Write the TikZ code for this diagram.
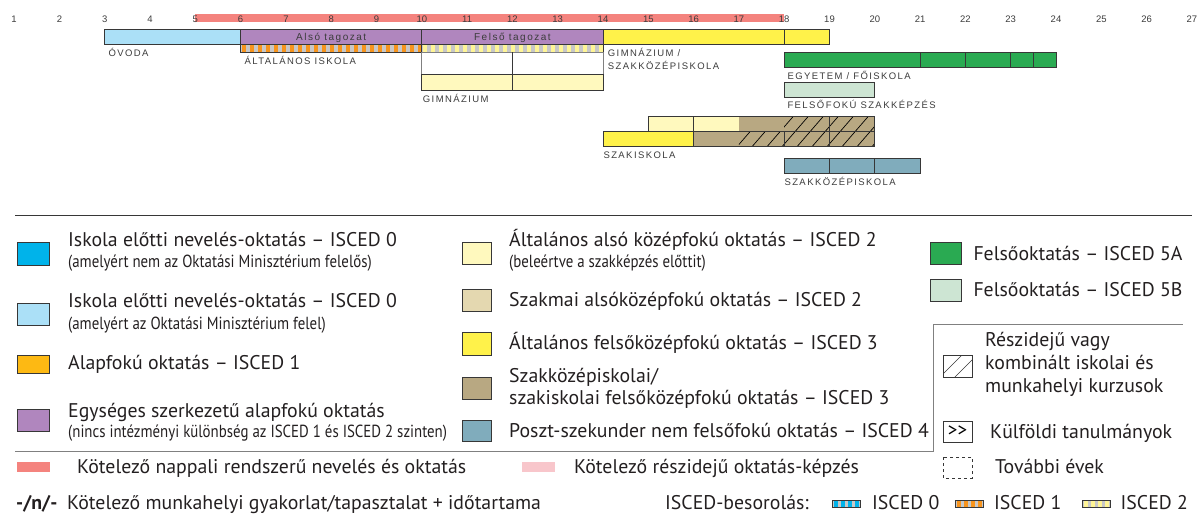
\documentclass[tikz,border=0pt]{standalone}
\usepackage{fontspec}
\setmainfont{PT Sans}
\newfontfamily\narrowfont[FakeStretch=0.85]{PT Sans}
\newfontfamily\capsfont[LetterSpace=15]{Liberation Sans}
\newfontfamily\agefont{Liberation Sans}

\definecolor{kotred}{RGB}{244,131,126}
\definecolor{kotpink}{RGB}{248,198,203}
\definecolor{ovodablue}{RGB}{0,179,234}
\definecolor{ovodalight}{RGB}{171,224,247}
\definecolor{alaporange}{RGB}{253,185,19}
\definecolor{egysegpurple}{RGB}{176,134,190}
\definecolor{alsoyellow}{RGB}{255,249,190}
\definecolor{szaktan}{RGB}{228,216,176}
\definecolor{felsoyellow}{RGB}{255,242,74}
\definecolor{szakbrown}{RGB}{184,168,130}
\definecolor{posztblue}{RGB}{128,172,188}
\definecolor{fogreen}{RGB}{42,170,82}
\definecolor{folight}{RGB}{205,229,211}
\definecolor{stripeorange}{RGB}{247,148,29}
\definecolor{stripegray}{RGB}{200,200,200}
\definecolor{stripeyellow}{RGB}{255,245,150}
\definecolor{bargray}{RGB}{55,55,55}
\definecolor{labelgray}{RGB}{60,60,60}
\definecolor{keyblack}{RGB}{35,31,32}

\tikzset{
  bar/.style={draw=bargray, line width=0.9pt},
  keysq/.style={draw=bargray, line width=0.6pt},
  agelabel/.style={anchor=base, inner sep=0pt, text=labelgray, font=\agefont\fontsize{9.5}{11}\selectfont},
  barlabel/.style={anchor=base, inner sep=0pt, text=labelgray, font=\capsfont\fontsize{10}{12}\selectfont},
  schoollabel/.style={anchor=base west, inner sep=0pt, text=labelgray, font=\capsfont\fontsize{9.5}{12}\selectfont},
  keytext/.style={anchor=base west, inner sep=0pt, text=keyblack, font=\fontsize{19.8}{23}\selectfont},
  keysub/.style={anchor=base west, inner sep=0pt, text=keyblack, font=\narrowfont\fontsize{17.5}{20}\selectfont},
}

\begin{document}
\begin{tikzpicture}[x=1pt, y=-1pt]
\useasboundingbox (0,0) rectangle (1197,528);

\fill[stripegray] (240.6,44.7) rectangle (603,52);
\foreach \s in {0,...,22} \fill[stripeorange] ({241.6+8*\s},44.7) rectangle ++(4.2,7.3);
\foreach \s in {0,...,22} \fill[stripeyellow] ({422.8+8*\s},44.7) rectangle ++(4.2,7.3);

\begin{scope}[xshift=-31.2pt, x=45.3pt]
  \fill[kotred] (5,14) rectangle (18,22);
  \foreach \a in {1,...,27} \node[agelabel] (age\a) at (\a,22) {\a};

  \draw[bar, fill=ovodalight] (3,29.3) rectangle (6,44.7);
  \draw[bar, fill=egysegpurple] (6,29.3) rectangle (10,44.7);
  \draw[bar, fill=egysegpurple] (10,29.3) rectangle (14,44.7);
  \node[barlabel] (also) at (8,40.7) {Alsó tagozat};
  \node[barlabel] (felso) at (12,40.7) {Felső tagozat};
  \draw[bar] (6,44.7) rectangle (10,52);
  \draw[bar] (10,44.7) rectangle (14,52);

  \draw[draw=gray, line width=0.9pt, fill=white] (10,52) rectangle (14,74.7);
  \draw[bar, fill=alsoyellow] (10,74.7) rectangle (14,90);
  \draw[bar] (12,52) -- (12,90);

  \draw[bar, fill=felsoyellow] (14,29.3) rectangle (19,44.7);
  \draw[bar] (18,29.3) -- (18,44.7);

  \draw[bar, fill=fogreen] (18,52.3) rectangle (24,67.3);
  \foreach \d in {21,22,23,23.5} \draw[bar] (\d,52.3) -- (\d,67.3);
  \draw[bar, fill=folight] (18,82.7) rectangle (20,97.7);

  \fill[alsoyellow] (15,116.7) rectangle (17,131.7);
  \fill[szakbrown] (17,116.7) rectangle (20,131.7);
  \fill[felsoyellow] (14,131.7) rectangle (16,146.7);
  \fill[szakbrown] (16,131.7) rectangle (20,146.7);

  \draw[bar, fill=posztblue] (18,158.3) rectangle (21,173.3);
  \foreach \d in {19,20} \draw[bar] (\d,158.3) -- (\d,173.3);
\end{scope}

\begin{scope}
  \clip (784.2,116.7) rectangle (874.8,131.7) (738.9,131.7) rectangle (874.8,146.7);
  \foreach \h in {0,...,11} \draw[black, line width=0.7pt] ({722+15*\h},146.7) -- ++(26,-30);
\end{scope}

\begin{scope}[xshift=-31.2pt, x=45.3pt]
  \draw[bar] (15,116.7) rectangle (20,131.7);
  \draw[bar] (14,131.7) rectangle (20,146.7);
  \foreach \d in {16,19} \draw[bar] (\d,116.7) -- (\d,131.7);
  \foreach \d in {16,18,19} \draw[bar] (\d,131.7) -- (\d,146.7);
\end{scope}

\node[schoollabel] (ovodalab) at (108.3,56) {ÓVODA};
\node[schoollabel] (altisklab) at (244.3,64) {ÁLTALÁNOS ISKOLA};
\node[schoollabel] (gimnlab) at (422.7,102) {GIMNÁZIUM};
\node[schoollabel] (gimnszaklab) at (607.7,56) {GIMNÁZIUM /};
\node[schoollabel] (gimnszaklabb) at (607.7,69.3) {SZAKKÖZÉPISKOLA};
\node[schoollabel] (egyetemlab) at (787.3,79) {EGYETEM / FŐISKOLA};
\node[schoollabel] (felsofoklab) at (787.3,108.3) {FELSŐFOKÚ SZAKKÉPZÉS};
\node[schoollabel] (szakisklab) at (603.3,158.3) {SZAKISKOLA};
\node[schoollabel] (szakkozlab) at (784.3,185) {SZAKKÖZÉPISKOLA};

\draw[bargray, line width=0.9pt] (15,215.7) -- (1192,215.7);
\draw[gray, line width=1pt] (15,451) -- (933,451) -- (933,324.3) -- (1183,324.3);

\draw[keysq, fill=ovodablue] (17,242.5) rectangle (49.5,265);
\node[keytext] (ovodanem) at (68,246) {Iskola előtti nevelés-oktatás – ISCED 0};
\node[keysub] (ovodanemsub) at (68,267.3) {(amelyért nem az Oktatási Minisztérium felelős)};
\draw[keysq, fill=ovodalight] (17,303.3) rectangle (49.5,325.7);
\node[keytext] (ovodaom) at (68,307.5) {Iskola előtti nevelés-oktatás – ISCED 0};
\node[keysub] (ovodaomsub) at (68,329.3) {(amelyért az Oktatási Minisztérium felel)};
\draw[keysq, fill=alaporange] (17,355.5) rectangle (49.5,373.5);
\node[keytext] (alapfok) at (68,369.5) {Alapfokú oktatás – ISCED 1};
\draw[keysq, fill=egysegpurple] (17,409.3) rectangle (49.5,431.7);
\node[keytext] (egyseges) at (68,417) {Egységes szerkezetű alapfokú oktatás};
\node[keysub] (egysegessub) at (68,437.3) {(nincs intézményi különbség az ISCED 1 és ISCED 2 szinten)};

\draw[keysq, fill=alsoyellow] (462.3,242.3) rectangle (491.7,264.3);
\node[keytext] (altalso) at (509,246) {Általános alsó középfokú oktatás – ISCED 2};
\node[keysub] (altalsosub) at (509,267.3) {(beleértve a szakképzés előttit)};
\draw[keysq, fill=szaktan] (462.3,289.3) rectangle (491.7,311.7);
\node[keytext] (szakalso) at (509,306) {Szakmai alsóközépfokú oktatás – ISCED 2};
\draw[keysq, fill=felsoyellow] (462.3,332.7) rectangle (491.7,355);
\node[keytext] (altfelso) at (509,349) {Általános felsőközépfokú oktatás – ISCED 3};
\draw[keysq, fill=szakbrown] (462.3,377) rectangle (491.7,399.3);
\node[keytext] (szakfelso) at (509,382) {Szakközépiskolai/};
\node[keytext] (szakfelsob) at (509,404) {szakiskolai felsőközépfokú oktatás – ISCED 3};
\draw[keysq, fill=posztblue] (462.3,420) rectangle (491.7,441.5);
\node[keytext] (poszt) at (509,437) {Poszt-szekunder nem felsőfokú oktatás – ISCED 4};

\draw[keysq, fill=fogreen] (930,242.3) rectangle (961.7,264.3);
\node[keytext] (felsook5a) at (973.3,260) {Felsőoktatás – ISCED 5A};
\draw[keysq, fill=folight] (930,279) rectangle (961.7,301);
\node[keytext] (felsook5b) at (973.3,296) {Felsőoktatás – ISCED 5B};

\begin{scope}
  \clip (943,355) rectangle (972,377);
  \draw[bargray, line width=0.6pt] (940,377) -- (966,351);
  \draw[bargray, line width=0.6pt] (951,381) -- (977,355);
\end{scope}
\draw[keysq] (943,355) rectangle (972,377);
\node[keytext] (reszido) at (985,346) {Részidejű vagy};
\node[keytext] (reszidob) at (985,369) {kombinált iskolai és};
\node[keytext] (reszidoc) at (985,392) {munkahelyi kurzusok};
\node[keysq, anchor=center, minimum width=29pt, minimum height=21pt, inner sep=0pt, font=\fontsize{19}{21}\selectfont] (kulfoldbox) at (957.5,431.5) {>{}>};
\node[keytext] (kulfold) at (990,438) {Külföldi tanulmányok};
\draw[keysq, dash pattern=on 3pt off 3pt] (943,457) rectangle (972,478);
\node[keytext] (tovabbi) at (995,473) {További évek};

\fill[kotred] (17,462) rectangle (50,472);
\node[keytext] (kotnappali) at (77,473) {Kötelező nappali rendszerű nevelés és oktatás};
\fill[kotpink] (522,462) rectangle (555,472);
\node[keytext] (kotresz) at (574,473) {Kötelező részidejű oktatás-képzés};

\node[keytext, font=\bfseries\fontsize{19.8}{23}\selectfont] (munkajel) at (16,509) {-/n/-};
\node[keytext] (munka) at (67,509) {Kötelező munkahelyi gyakorlat/tapasztalat + időtartama};
\node[keytext] (besorolas) at (665,509) {ISCED-besorolás:};
\foreach \sx/\sc in {832/ovodablue, 955/stripeorange, 1082/stripeyellow} {
  \fill[stripegray] (\sx,500.5) rectangle ++(28,7);
  \foreach \s in {0,...,3} \fill[\sc] ({\sx+2+7*\s},500.5) rectangle ++(4,7);
  \draw[keysq] (\sx,500.5) rectangle ++(28,7);
}
\node[keytext] (isced0) at (872,509) {ISCED 0};
\node[keytext] (isced1) at (994,509) {ISCED 1};
\node[keytext] (isced2) at (1120.5,509) {ISCED 2};

\end{tikzpicture}
\end{document}
